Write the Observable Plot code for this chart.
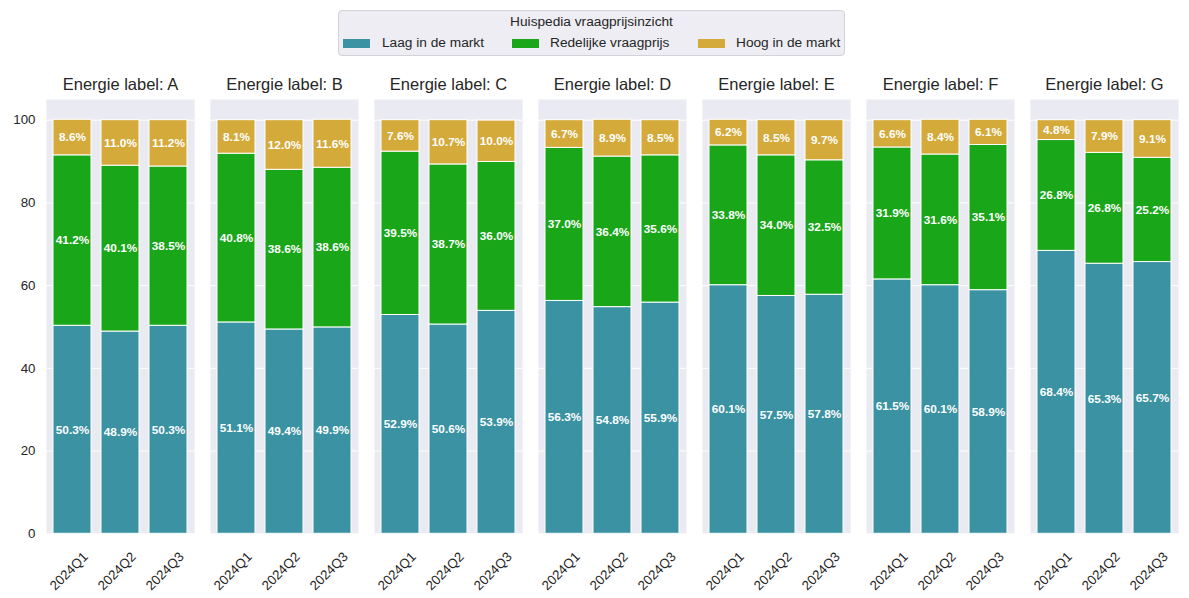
<!DOCTYPE html>
<html><head><meta charset="utf-8">
<script src="https://cdn.jsdelivr.net/npm/d3@7"></script>
<script src="https://cdn.jsdelivr.net/npm/@observablehq/plot@0.6"></script>
<style>
body{margin:0;background:#fff;font-family:"Liberation Sans",Arial,sans-serif;color:#262626;}
#wrap{position:relative;width:1189px;height:598px;overflow:hidden;}
#legend{position:absolute;left:338px;top:10px;width:505px;height:44px;border:1px solid #d2d2da;border-radius:4px;background:#ededf3;}
.lt{position:absolute;font-size:13.7px;line-height:16px;white-space:nowrap;}
.sw{position:absolute;width:27px;height:9px;}
#chart{position:absolute;left:0;top:64px;}
</style></head>
<body>
<div id="wrap">
  <div id="legend"></div>
  <div id="chart"></div>
</div>
<script>
const labels = ["A","B","C","D","E","F","G"];
const quarters = ["2024Q1","2024Q2","2024Q3"];
const categories = ["Laag in de markt","Redelijke vraagprijs","Hoog in de markt"];
const colors = ["#3b92a3","#19a619","#d4aa3b"];
const legendTitle = "Huispedia vraagprijsinzicht";
// per energy label: [Q1, Q2, Q3]
const laag =      [[50.3,48.9,50.3],[51.1,49.4,49.9],[52.9,50.6,53.9],[56.3,54.8,55.9],[60.1,57.5,57.8],[61.5,60.1,58.9],[68.4,65.3,65.7]];
const redelijk =  [[41.2,40.1,38.5],[40.8,38.6,38.6],[39.5,38.7,36.0],[37.0,36.4,35.6],[33.8,34.0,32.5],[31.9,31.6,35.1],[26.8,26.8,25.2]];
const hoog =      [[8.6,11.0,11.2],[8.1,12.0,11.6],[7.6,10.7,10.0],[6.7,8.9,8.5],[6.2,8.5,9.7],[6.6,8.4,6.1],[4.8,7.9,9.1]];
const yTicks = [0,20,40,60,80,100];

const series = [laag, redelijk, hoog];
const rows = [];
labels.forEach((l,i)=>quarters.forEach((q,j)=>series.forEach((s,k)=>rows.push({label:l, quarter:q, cat:categories[k], value:s[i][j]}))));
const xrows = [];
labels.forEach(l=>quarters.forEach(q=>xrows.push({label:l, quarter:q})));

// legend
const lg = document.getElementById("wrap");
const addDiv = (cls, style, text) => { const d=document.createElement("div"); d.className=cls; Object.assign(d.style, style); if(text) d.textContent=text; lg.appendChild(d); };
addDiv("lt", {left:"338px", width:"507px", top:"14px", textAlign:"center"}, legendTitle);
const swX = [343, 512, 698], txX = [382, 550, 736];
categories.forEach((c,k)=>{
  addDiv("sw", {left:swX[k]+"px", top:"38.5px", background:colors[k]});
  addDiv("lt", {left:txX[k]+"px", top:"35px"}, c);
});

const font = "Liberation Sans, Arial, sans-serif";
const chart = Plot.plot({
  width:1189, height:534,
  marginTop:35, marginBottom:64.7, marginLeft:44, marginRight:9.5,
  style:{fontFamily:font, background:"transparent", color:"#262626", overflow:"visible"},
  fx:{domain:labels, paddingInner:0.1, paddingOuter:0, axis:null, label:null},
  x:{domain:quarters, paddingInner:0.2, paddingOuter:0.14, axis:null},
  y:{domain:[0,105], axis:null},
  color:{domain:categories, range:colors},
  marks:[
    Plot.frame({fill:"#eaeaf2", stroke:"none"}),
    Plot.gridY(yTicks, {stroke:"white", strokeOpacity:1, strokeWidth:1}),
    Plot.barY(rows, Plot.stackY({fx:"label", x:"quarter", y:"value", fill:"cat", stroke:"white", strokeWidth:1})),
    Plot.text(rows, Plot.stackY({fx:"label", x:"quarter", y:"value", z:"cat", text:d=>d.value.toFixed(1)+"%", fill:"white", fontWeight:"bold", fontSize:11.8})),
    Plot.text(labels, {fx:d=>d, text:d=>"Energie label: "+d, frameAnchor:"top", lineAnchor:"middle", dy:-15, fontSize:16.5, fill:"#262626"}),
    Plot.text(xrows, {fx:"label", x:"quarter", text:"quarter", frameAnchor:"bottom", lineAnchor:"middle", rotate:-45, textAnchor:"end", dx:13.3, dy:20.8, fontSize:13.3, fill:"#262626"}),
    Plot.axisY(yTicks, {tickSize:0, tickPadding:11, fontSize:13.3, label:null, color:"#262626"})
  ]
});
document.getElementById("chart").appendChild(chart);
</script>
</body></html>
